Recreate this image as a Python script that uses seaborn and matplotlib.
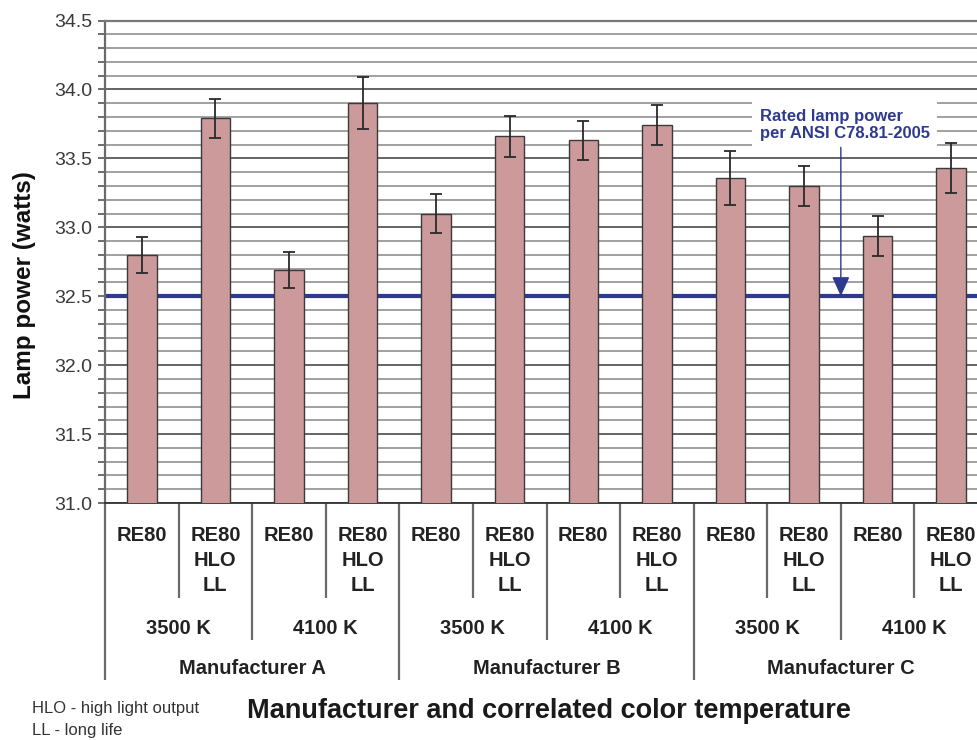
import matplotlib
matplotlib.use("Agg")
import matplotlib.pyplot as plt
import matplotlib.transforms as mtransforms
from matplotlib.ticker import MultipleLocator
import pandas as pd
import seaborn as sns

# Grouping of the bars: manufacturer > colour temperature > lamp type
manufacturers = ["Manufacturer A", "Manufacturer B", "Manufacturer C"]
temperatures = ["3500 K", "4100 K"]
lamp_types = ["RE80", "RE80\nHLO\nLL"]

# Measured lamp power (W) and error-bar half widths, in bar order
power = [32.80, 33.79, 32.69, 33.90, 33.10, 33.66, 33.63, 33.74, 33.36, 33.30, 32.94, 33.43]
power_err = [0.13, 0.14, 0.13, 0.19, 0.145, 0.15, 0.14, 0.145, 0.195, 0.145, 0.145, 0.18]

rated_power = 32.5
rated_label = "Rated lamp power\nper ANSI C78.81-2005"

sns.set_theme(style="white")
plt.rcParams["font.family"] = ["Liberation Sans", "DejaVu Sans"]

rows = []
for m in manufacturers:
    for t in temperatures:
        for lt in lamp_types:
            rows.append({"manufacturer": m, "temperature": t, "lamp": lt})
df = pd.DataFrame(rows)
df["power"] = power
df["err"] = power_err
df["slot"] = [str(i) for i in range(len(df))]

BAR_COLOR = "#cc9a9a"
BLUE = "#2d3a8e"
TEXT = "#222222"
DIVIDER = "#6a6a6a"

fig = plt.figure(figsize=(9.78, 7.40), dpi=100)
ax_h_px = 482.5
ax = fig.add_axes([105 / 978, 1 - 503 / 740, 883 / 978, ax_h_px / 740])

sns.barplot(data=df, x="slot", y="power", color=BAR_COLOR, width=0.4,
            edgecolor="#3a3a3a", linewidth=1.0, errorbar=None, saturation=1,
            ax=ax, zorder=3)
ax.errorbar(range(len(df)), df["power"], yerr=df["err"], fmt="none",
            ecolor="#2a2a2a", elinewidth=1.3, capsize=4, capthick=1.3, zorder=4)

ax.set_xlim(-0.5, len(df) - 0.5)
ax.set_ylim(31.0, 34.5)
ax.yaxis.set_major_locator(MultipleLocator(0.5))
ax.yaxis.set_minor_locator(MultipleLocator(0.1))
ax.yaxis.set_major_formatter(matplotlib.ticker.FormatStrFormatter("%.1f"))
ax.grid(axis="y", which="minor", color="#a0a0a0", linewidth=1.4, zorder=0)
ax.grid(axis="y", which="major", color="#4a4a4a", linewidth=1.2, zorder=0)
ax.set_axisbelow(True)
ax.tick_params(axis="y", which="both", left=True, direction="out", length=5,
               width=1.2, color="#555555", pad=4)
ax.tick_params(axis="y", which="major", labelsize=14, labelcolor="#3a3a3a")
ax.tick_params(axis="x", bottom=False, labelbottom=False)
ax.set_xlabel("")
ax.set_ylabel("")
for side in ["left", "bottom", "top", "right"]:
    ax.spines[side].set_visible(True)
ax.spines["left"].set_color(DIVIDER)
ax.spines["left"].set_linewidth(1.6)
ax.spines["bottom"].set_color("#333333")
ax.spines["bottom"].set_linewidth(1.3)
ax.spines["top"].set_color("#777777")
ax.spines["top"].set_linewidth(1.6)
ax.spines["right"].set_visible(False)

# Rated power reference line
ax.axhline(rated_power, color=BLUE, linewidth=3, zorder=2)

# Annotation for the rated power
ax.text(8.40, 33.86, rated_label, ha="left", va="top", color=BLUE,
        fontsize=12, fontweight="bold", linespacing=1.2, zorder=5,
        bbox=dict(boxstyle="square,pad=0.45", facecolor="white", edgecolor="none"))
ax.annotate("", xy=(9.5, rated_power), xytext=(9.5, 33.58),
            arrowprops=dict(arrowstyle="-|>,head_length=0.6,head_width=0.27",
                            mutation_scale=20, color=BLUE, lw=1.0,
                            shrinkA=0, shrinkB=0), zorder=5)

# Hierarchical category axis below the plot
trans = mtransforms.blended_transform_factory(ax.transData, ax.transAxes)


def below(px):
    return -px / ax_h_px


n = len(df)
for i, row in df.iterrows():
    ax.text(i, below(23), row["lamp"], transform=trans, ha="center", va="top",
            fontsize=14.5, fontweight="bold", color=TEXT, linespacing=1.4,
            multialignment="center", clip_on=False)

per_temp = len(lamp_types)
per_man = len(temperatures) * len(lamp_types)
for b in range(n + 1):
    x = b - 0.5
    if b % per_man == 0:
        depth = 177
    elif b % per_temp == 0:
        depth = 137
    else:
        depth = 95
    ax.plot([x, x], [0, below(depth)], transform=trans, color=DIVIDER,
            linewidth=1.6, clip_on=False, solid_capstyle="butt")

for g in range(len(manufacturers) * len(temperatures)):
    center = g * per_temp + (per_temp - 1) / 2
    ax.text(center, below(125), temperatures[g % len(temperatures)], transform=trans,
            ha="center", va="center", fontsize=14.5, fontweight="bold",
            color=TEXT, clip_on=False)

for k, m in enumerate(manufacturers):
    center = k * per_man + (per_man - 1) / 2
    ax.text(center, below(165), m, transform=trans, ha="center", va="center",
            fontsize=14.5, fontweight="bold", color=TEXT, clip_on=False)

fig.text(25 / 978, 1 - 285 / 740, "Lamp power (watts)", rotation=90,
         ha="center", va="center", fontsize=17.5, fontweight="bold", color="#111111")
fig.text(549 / 978, 1 - 711 / 740, "Manufacturer and correlated color temperature",
         ha="center", va="center", fontsize=19.5, fontweight="bold", color="#1a1a1a")
fig.text(32 / 978, 1 - 709 / 740, "HLO - high light output", ha="left", va="center",
         fontsize=12, color="#333333")
fig.text(32 / 978, 1 - 731 / 740, "LL - long life", ha="left", va="center",
         fontsize=12, color="#333333")

fig.savefig("out.png", dpi=100, facecolor="white")
